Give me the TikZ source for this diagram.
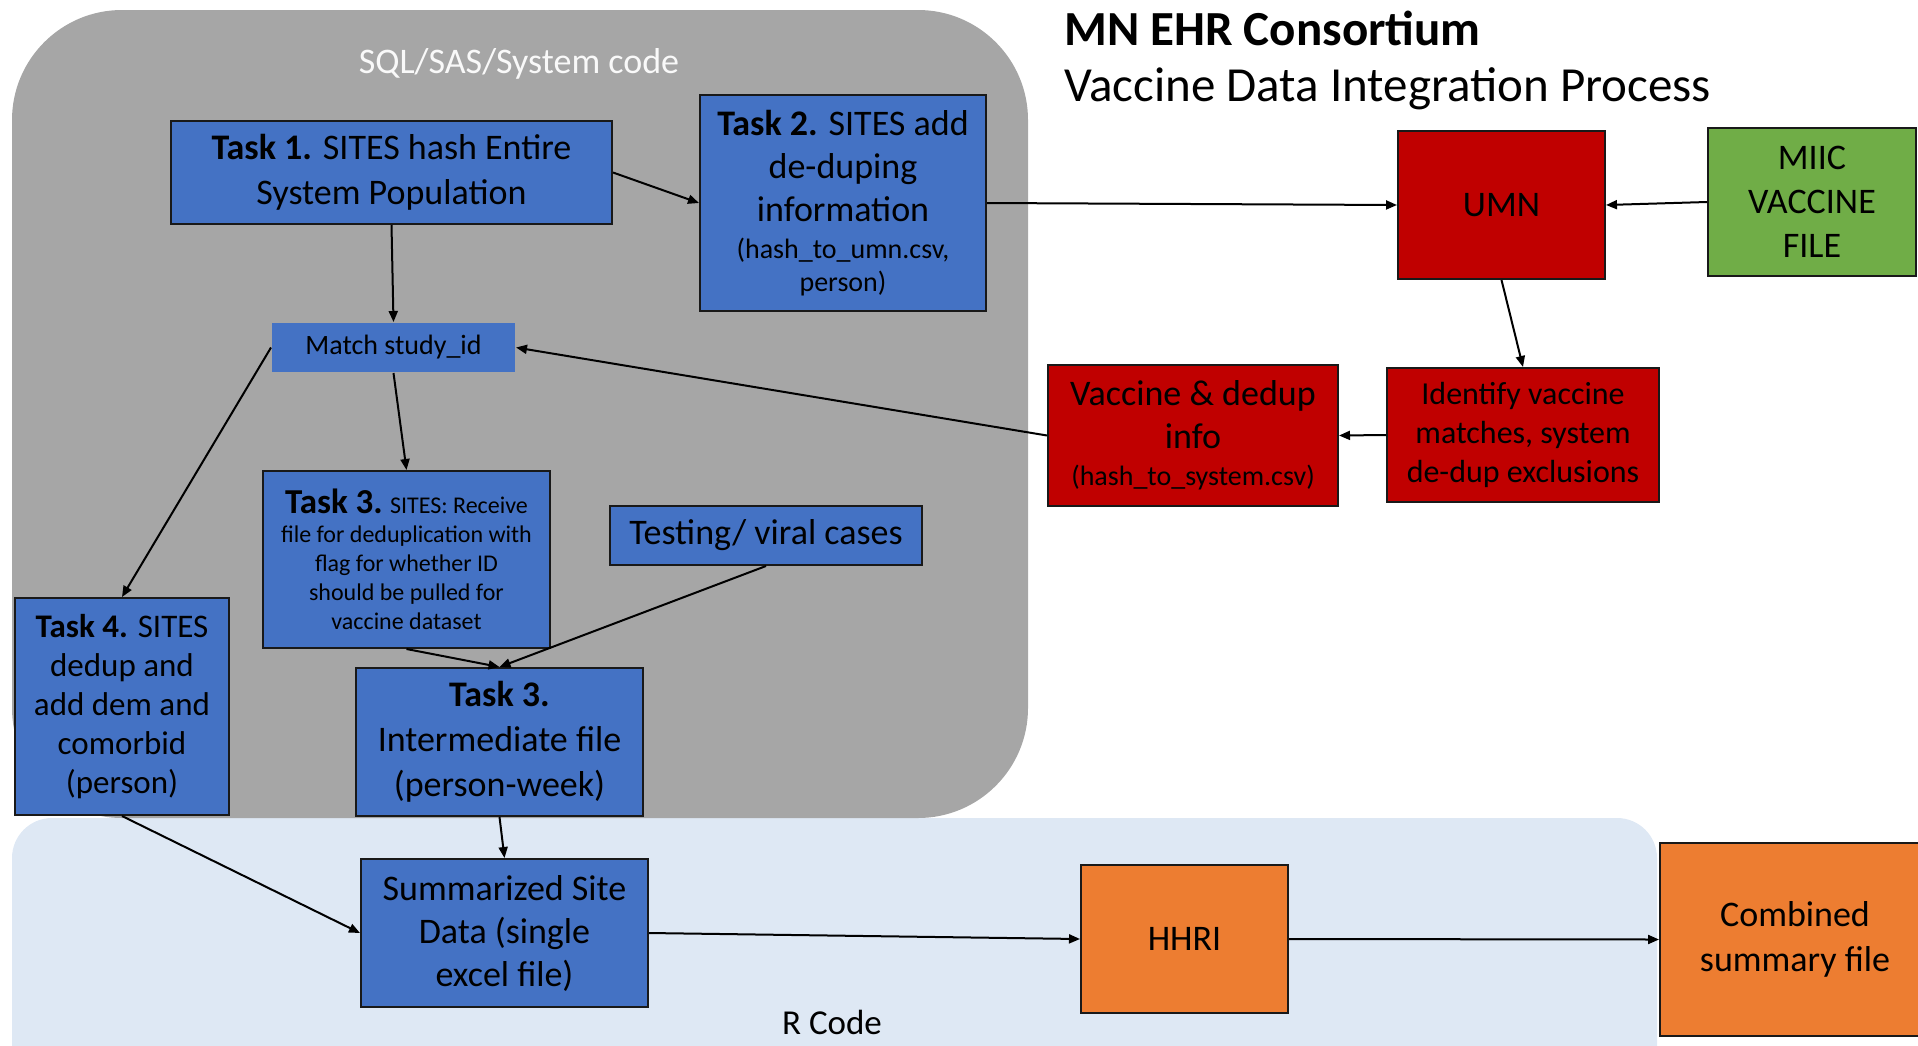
\documentclass[tikz,border=0pt]{standalone}
\usepackage{fontspec}
\setmainfont{Carlito}
\usetikzlibrary{arrows.meta}
\definecolor{boxblue}{HTML}{4472C4}
\definecolor{boxred}{HTML}{C00000}
\definecolor{boxgreen}{HTML}{70AD47}
\definecolor{boxorange}{HTML}{ED7D31}
\definecolor{regiongray}{HTML}{A6A6A6}
\definecolor{regionblue}{HTML}{DEE8F4}
\newcommand\fsz[2]{\fontsize{#1}{#2}\selectfont}
\begin{document}
\begin{tikzpicture}[x=1pt,y=-1pt,
  box/.style={draw=black!90, line width=2pt, align=center, inner sep=0pt, text=black},
  bluebox/.style={box, fill=boxblue},
  redbox/.style={box, fill=boxred},
  greenbox/.style={box, fill=boxgreen},
  orangebox/.style={box, fill=boxorange},
  conn/.style={-{Triangle[length=11pt,width=9pt]}, line width=2pt, black}]
\useasboundingbox (0,0) rectangle (1918,1045);
\clip (0,0) rectangle (1918,1045);
% regions
\fill[regionblue, rounded corners=40pt] (12,818) rectangle (1657,1090);
\fill[regiongray, rounded corners=110pt] (12,10) rectangle (1028,818);
\node[text=white!95!gray, font=\fsz{36}{42}] (sqltxt) at (519,64) {SQL/SAS/System code};
\node[font=\fsz{35}{42}] (rtxt) at (832,1022) {R Code};
% title
\node[anchor=west, font=\fsz{49}{56}\bfseries, inner sep=0pt] (title) at (1064,28) {MN EHR Consortium};
\node[anchor=west, font=\fsz{49}{56}, inner sep=0pt] (subtitle) at (1064,89) {Vaccine Data Integration Process};
% boxes
\node[bluebox, minimum width=441pt, minimum height=103pt, font=\fsz{36}{45}] (t1) at (391.5,172.5)
  {\textbf{Task 1.} SITES hash Entire\\System Population};
\node[bluebox, minimum width=286pt, minimum height=216pt, font=\fsz{36}{43}] (t2) at (843,203)
  {\textbf{Task 2.} SITES add\\de-duping\\information\\[-6pt]{\fsz{28}{32}\selectfont(hash\_to\_umn.csv,}\\[-10pt]{\fsz{28}{32}\selectfont person)}};
\node[bluebox, draw=none, minimum width=243pt, minimum height=49pt, font=\fsz{28}{32}] (match) at (393.5,347.5)
  {Match study\_id};
\node[bluebox, minimum width=287pt, minimum height=177pt, font=\fsz{24}{29}] (t3a) at (406.5,559.5)
  {{\fsz{35}{29}\selectfont\textbf{Task 3.}} SITES: Receive\\file for deduplication with\\flag for whether ID\\should be pulled for\\vaccine dataset};
\node[bluebox, minimum width=312pt, minimum height=59pt, font=\fsz{36}{42}] (test) at (766,535.5)
  {Testing/ viral cases};
\node[bluebox, minimum width=214pt, minimum height=217pt, font=\fsz{33}{39}] (t4) at (122,706.5)
  {\textbf{Task 4.} SITES\\dedup and\\add dem and\\comorbid\\(person)};
\node[bluebox, minimum width=287pt, minimum height=148pt, font=\fsz{36}{45}] (t3b) at (499.5,742)
  {\textbf{Task 3.}\\Intermediate file\\(person-week)};
\node[bluebox, minimum width=287pt, minimum height=148pt, font=\fsz{36}{43}] (summ) at (504.5,933)
  {Summarized Site\\Data (single\\excel file)};
\node[redbox, minimum width=207pt, minimum height=148pt, font=\fsz{36}{43}] (umn) at (1501.5,205) {UMN};
\node[greenbox, minimum width=208pt, minimum height=148pt, font=\fsz{36}{44}] (miic) at (1812,202)
  {MIIC\\VACCINE\\FILE};
\node[redbox, minimum width=290pt, minimum height=141pt, font=\fsz{36}{43}] (vacc) at (1193,435.5)
  {Vaccine \& dedup\\info\\[-6pt]{\fsz{28}{32}\selectfont(hash\_to\_system.csv)}};
\node[redbox, minimum width=272pt, minimum height=134pt, font=\fsz{32}{39}] (ident) at (1523,435)
  {Identify vaccine\\matches, system\\de-dup exclusions};
\node[orangebox, minimum width=207pt, minimum height=148pt, font=\fsz{36}{43}] (hhri) at (1184.5,939) {HHRI};
\node[orangebox, minimum width=270pt, minimum height=193pt, font=\fsz{36}{45}] (comb) at (1795,939.5)
  {Combined\\summary file};
% connectors
\draw[conn] (t1.east) -- (t2.west);
\draw[conn] (t1.south) -- (match.north);
\draw[conn] (t2.east) -- (umn.west);
\draw[conn] (miic.west) -- (umn.east);
\draw[conn] (umn.south) -- (ident.north);
\draw[conn] (ident.west) -- (vacc.west -| vacc.east);
\draw[conn] (vacc.west) -- (match.east);
\draw[conn] (match.west) -- (t4.north);
\draw[conn] (match.south) -- (t3a.north);
\draw[conn] (t3a.south) -- (t3b.north);
\draw[conn] (test.south) -- (t3b.north);
\draw[conn] (t3b.south) -- (summ.north);
\draw[conn] (t4.south) -- (summ.west);
\draw[conn] (summ.east) -- (hhri.west);
\draw[conn] (hhri.east) -- (comb.west);
\end{tikzpicture}
\end{document}
